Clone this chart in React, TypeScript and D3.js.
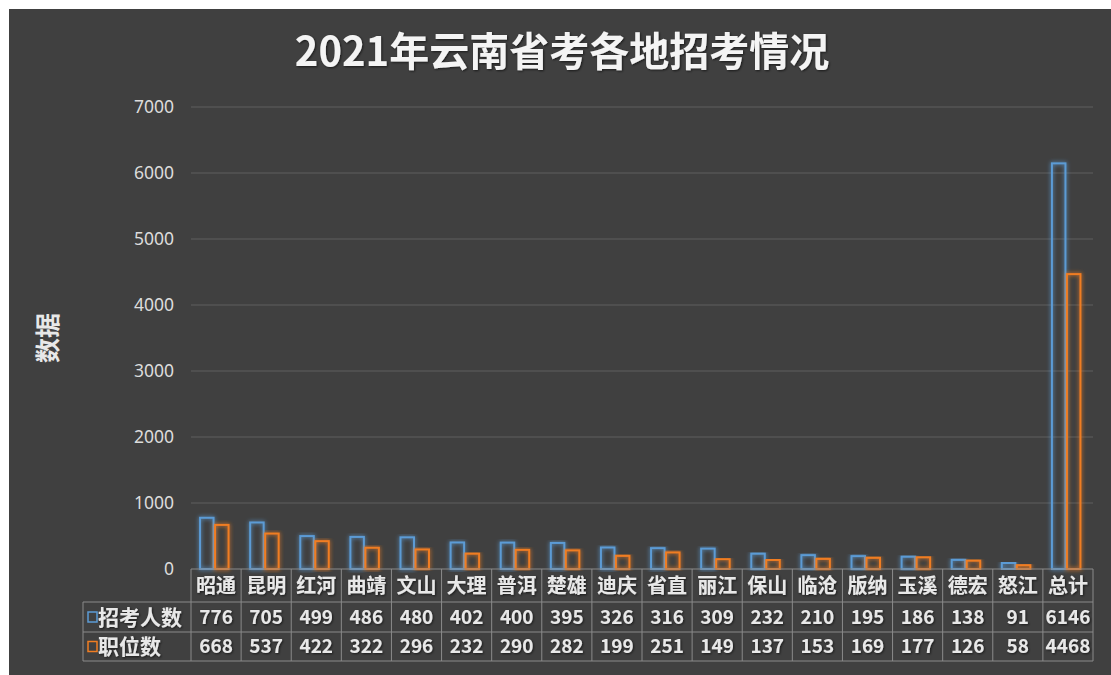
import React from "react";
import * as d3 from "d3";

const categories = ["昭通", "昆明", "红河", "曲靖", "文山", "大理", "普洱", "楚雄", "迪庆", "省直", "丽江", "保山", "临沧", "版纳", "玉溪", "德宏", "怒江", "总计"];
const applicants = [776, 705, 499, 486, 480, 402, 400, 395, 326, 316, 309, 232, 210, 195, 186, 138, 91, 6146];
const positions = [668, 537, 422, 322, 296, 232, 290, 282, 199, 251, 149, 137, 153, 169, 177, 126, 58, 4468];
const seriesNames = ["招考人数", "职位数"];
const yTicks = [0, 1000, 2000, 3000, 4000, 5000, 6000, 7000];
const title = "2021年云南省考各地招考情况";
const yLabel = "数据";

const W = 1111;
const H = 675;
const BLUE = "#5b9bd5";
const ORANGE = "#f07d22";
const TEXT = "#e8e8e8";
const CJK = "'Noto Sans CJK SC', 'Noto Sans', sans-serif";

export default function App() {
  const left = 191;
  const right = 1093;
  const top = 107;
  const bottom = 569;
  const x = d3.scaleBand<string>().domain(categories).range([left, right]);
  const y = d3.scaleLinear().domain([0, 7000]).range([bottom, top]);
  const bw = 15;
  const rowTops = [569, 602, 632, 661];
  const series = [applicants, positions];
  const colors = [BLUE, ORANGE];

  return (
    <div style={{ position: "absolute", left: 0, top: 0 }}>
      <svg width={W} height={H} style={{ display: "block" }}>
        <defs>
          <filter id="glow" x="-50%" y="-10%" width="200%" height="120%">
            <feGaussianBlur in="SourceGraphic" stdDeviation="2.2" result="b" />
            <feMerge>
              <feMergeNode in="b" />
              <feMergeNode in="SourceGraphic" />
            </feMerge>
          </filter>
          <filter id="tshadow" x="-10%" y="-30%" width="120%" height="160%">
            <feDropShadow dx="1" dy="1" stdDeviation="1.2" floodColor="#000" floodOpacity="0.6" />
          </filter>
        </defs>
        <rect x={0} y={0} width={W} height={H} fill="#ffffff" />
        <rect x={9} y={9} width={W - 9} height={H - 9} fill="#404040" />

        <text x={562} y={66} textAnchor="middle" fill="#f4f4f4" fontSize={40} fontWeight="bold" fontFamily={CJK} filter="url(#tshadow)">
          {title}
        </text>

        {yTicks.map((t) => (
          <g key={t}>
            {t > 0 && <line x1={left} x2={right} y1={y(t)} y2={y(t)} stroke="#5e5e5e" strokeWidth={1.2} />}
            <text x={174} y={y(t)} dy="0.35em" textAnchor="end" fill="#dcdcdc" fontSize={17.5} fontFamily="'Noto Sans', sans-serif">
              {t}
            </text>
          </g>
        ))}

        <text transform={`translate(48,338) rotate(-90)`} textAnchor="middle" dy="0.35em" fill={TEXT} fontSize={25} fontWeight="bold" fontFamily={CJK}>
          {yLabel}
        </text>

        {series.map((vals, si) =>
          categories.map((c, i) => {
            const cx = (x(c) as number) + x.bandwidth() / 2;
            const x0 = cx - bw - 1 + si * bw;
            const yt = y(vals[i]);
            return (
              <rect key={`${si}-${i}`} x={x0} y={yt} width={bw - 1.5} height={bottom - yt} fill="none" stroke={colors[si]} strokeWidth={2} filter="url(#glow)" />
            );
          })
        )}

        {/* data table */}
        <g stroke="#8a8a8a" strokeWidth={1}>
          <line x1={left} x2={right} y1={rowTops[0]} y2={rowTops[0]} />
          {rowTops.slice(1).map((r) => (
            <line key={r} x1={83} x2={right} y1={r} y2={r} />
          ))}
          <line x1={83} x2={83} y1={rowTops[1]} y2={rowTops[3]} />
          {categories.map((c) => (
            <line key={c} x1={x(c)} x2={x(c)} y1={rowTops[0]} y2={rowTops[3]} />
          ))}
          <line x1={right} x2={right} y1={rowTops[0]} y2={rowTops[3]} />
        </g>

        {categories.map((c, i) => {
          const cx = (x(c) as number) + x.bandwidth() / 2;
          return (
            <g key={c} fontFamily={CJK} fontWeight="bold" fill={TEXT} textAnchor="middle" filter="url(#tshadow)">
              <text x={cx} y={(rowTops[0] + rowTops[1]) / 2} dy="0.36em" fontSize={20}>{c}</text>
              <text x={cx} y={(rowTops[1] + rowTops[2]) / 2} dy="0.36em" fontSize={19}>{applicants[i]}</text>
              <text x={cx} y={(rowTops[2] + rowTops[3]) / 2} dy="0.36em" fontSize={19}>{positions[i]}</text>
            </g>
          );
        })}

        {seriesNames.map((n, si) => {
          const cy = (rowTops[si + 1] + rowTops[si + 2]) / 2;
          return (
            <g key={n}>
              <rect x={88} y={cy - 5} width={9} height={10} fill="none" stroke={colors[si]} strokeWidth={1.5} />
              <text x={98} y={cy} dy="0.36em" fill={TEXT} fontSize={21} fontWeight="bold" fontFamily={CJK} filter="url(#tshadow)">
                {n}
              </text>
            </g>
          );
        })}
      </svg>
    </div>
  );
}
